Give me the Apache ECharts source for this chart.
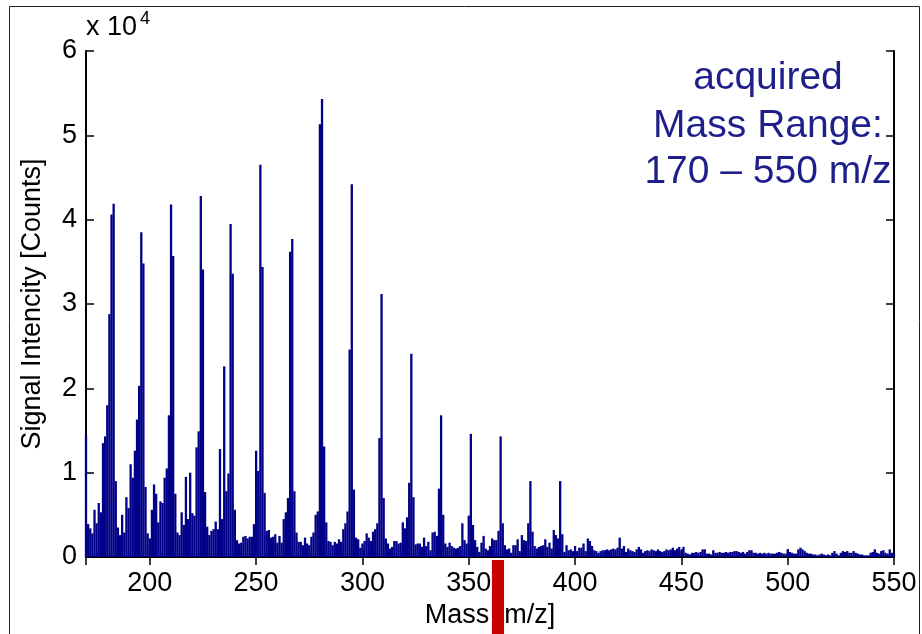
<!DOCTYPE html>
<html>
<head>
<meta charset="utf-8">
<script src="https://cdn.jsdelivr.net/npm/echarts@6/dist/echarts.min.js"></script>
<style>html,body{margin:0;padding:0;background:#fff}#c{width:922px;height:634px}</style>
</head>
<body>
<div id="c"></div>
<script>
// Signal intensity in units of 1e4 counts, one value per unit mass
const intensity170to209 = [1.45,0.39,0.34,0.28,0.56,0.40,0.64,0.53,1.35,1.43, 1.80,2.88,4.06,4.19,0.90,0.35,0.26,0.50,0.29,0.71, 0.58,1.10,0.94,1.26,1.63,2.03,3.85,3.48,0.83,0.28, 0.22,0.56,0.86,0.75,0.41,0.66,0.64,0.94,1.05,1.68];
const intensity210to249 = [4.18,3.57,0.75,0.29,0.26,0.53,0.38,0.95,0.45,1.00, 0.52,0.49,1.30,1.49,4.28,3.41,0.77,0.36,0.26,0.31, 0.33,0.42,0.33,1.28,0.45,2.26,0.78,0.99,3.95,3.36, 0.56,0.20,0.16,0.17,0.24,0.25,0.22,0.24,0.24,0.39];
const intensity250to289 = [1.26,1.02,4.65,3.44,0.76,0.31,0.32,0.23,0.24,0.27, 0.17,0.25,0.17,0.45,0.53,0.70,3.62,3.77,0.78,0.29, 0.18,0.18,0.14,0.23,0.16,0.14,0.24,0.29,0.50,0.54, 5.13,5.43,1.31,0.41,0.19,0.18,0.14,0.18,0.16,0.21];
const intensity290to329 = [0.18,0.33,0.40,0.54,2.46,4.42,0.80,0.23,0.21,0.11, 0.16,0.19,0.28,0.23,0.19,0.30,0.33,0.40,1.41,3.12, 0.70,0.22,0.16,0.10,0.12,0.19,0.19,0.16,0.17,0.41, 0.34,0.47,0.88,2.41,0.71,0.15,0.16,0.16,0.12,0.23];
const intensity330to369 = [0.13,0.18,0.08,0.29,0.30,0.25,0.81,1.68,0.50,0.16, 0.12,0.17,0.13,0.11,0.10,0.11,0.13,0.40,0.20,0.16, 0.49,1.46,0.38,0.20,0.12,0.06,0.17,0.25,0.10,0.08, 0.13,0.22,0.20,0.20,0.31,1.43,0.40,0.14,0.09,0.10];
const intensity370to409 = [0.05,0.14,0.14,0.21,0.07,0.26,0.20,0.19,0.40,0.90, 0.30,0.13,0.10,0.12,0.13,0.14,0.21,0.12,0.17,0.10, 0.32,0.26,0.22,0.90,0.27,0.06,0.14,0.08,0.09,0.07, 0.13,0.07,0.11,0.11,0.16,0.07,0.22,0.19,0.13,0.08];
const intensity410to449 = [0.07,0.05,0.07,0.08,0.08,0.09,0.08,0.09,0.10,0.09, 0.11,0.23,0.10,0.13,0.06,0.10,0.08,0.07,0.06,0.09, 0.12,0.09,0.05,0.07,0.08,0.07,0.09,0.08,0.07,0.09, 0.07,0.06,0.07,0.09,0.08,0.09,0.11,0.08,0.10,0.12];
const intensity450to489 = [0.08,0.12,0.05,0.04,0.03,0.05,0.05,0.06,0.05,0.06, 0.09,0.09,0.04,0.04,0.03,0.08,0.05,0.05,0.06,0.05, 0.05,0.06,0.05,0.06,0.06,0.07,0.07,0.06,0.05,0.06, 0.04,0.06,0.08,0.08,0.05,0.05,0.04,0.05,0.04,0.05];
const intensity490to550 = [0.04,0.05,0.04,0.04,0.04,0.05,0.06,0.05,0.04,0.04, 0.09,0.06,0.05,0.04,0.04,0.09,0.11,0.09,0.07,0.05, 0.04,0.04,0.03,0.03,0.02,0.03,0.04,0.03,0.02,0.03, 0.02,0.05,0.07,0.04,0.02,0.05,0.07,0.06,0.07,0.05, 0.05,0.07,0.05,0.04,0.03,0.03,0.02,0.02,0.02,0.05, 0.06,0.09,0.05,0.04,0.07,0.08,0.05,0.04,0.09,0.05, 0.03];
const segmentStarts = [170, 210, 250, 290, 330, 370, 410, 450, 490];
const segments = [intensity170to209, intensity210to249, intensity250to289, intensity290to329, intensity330to369, intensity370to409, intensity410to449, intensity450to489, intensity490to550];
const xRange = [170, 550];
const yRange = [0, 6];
const markerRange = [360.9, 366.6]; // red marker below the mass axis
const annotationLines = ['acquired', 'Mass Range:', '170 \u2013 550 m/z'];

const spectrum = [];
segments.forEach((seg, s) => seg.forEach((v, i) => spectrum.push([segmentStarts[s] + i, v])));

const FONT = "'Liberation Sans', Arial, Helvetica, sans-serif";
const chart = echarts.init(document.getElementById('c'), null, {renderer: 'canvas'});
const axisLine = {show: true, lineStyle: {color: '#000', width: 2}};
const tick = {show: true, inside: true, length: 8, lineStyle: {color: '#000', width: 1.5}};

chart.setOption({
  animation: false,
  backgroundColor: '#fff',
  grid: {left: 86, right: 28, top: 51, bottom: 77, containLabel: false, outerBoundsMode: 'none'},
  xAxis: [
    {type: 'value', min: xRange[0], max: xRange[1], minInterval: 50, maxInterval: 50, splitNumber: 8,
     axisLine, axisTick: tick, splitLine: {show: false},
     axisLabel: {color: '#000', fontSize: 27, fontFamily: FONT, margin: 13, showMinLabel: false},
     name: 'Mass [m/z]', nameLocation: 'middle', nameGap: 43,
     nameTextStyle: {color: '#000', fontSize: 27, fontFamily: FONT}},
    {type: 'value', position: 'top', min: xRange[0], max: xRange[1], minInterval: 50, maxInterval: 50, splitNumber: 8,
     axisLine, axisTick: tick, splitLine: {show: false}, axisLabel: {show: false}}
  ],
  yAxis: [
    {type: 'value', min: yRange[0], max: yRange[1], interval: 1,
     axisLine, axisTick: tick, splitLine: {show: false},
     axisLabel: {color: '#000', fontSize: 27, fontFamily: FONT, margin: 9},
     name: 'Signal Intencity [Counts]', nameLocation: 'middle', nameGap: 40,
     nameTextStyle: {color: '#000', fontSize: 27, fontFamily: FONT}},
    {type: 'value', position: 'right', min: yRange[0], max: yRange[1], interval: 1,
     axisLine, axisTick: tick, splitLine: {show: false}, axisLabel: {show: false}}
  ],
  series: [
    {type: 'bar', xAxisIndex: 0, yAxisIndex: 0, data: spectrum, barWidth: 2.3,
     itemStyle: {color: '#000088'}, large: false, silent: true},
    {type: 'custom', xAxisIndex: 0, yAxisIndex: 0, clip: false, z: 10, silent: true,
     data: [[markerRange[0], markerRange[1], 0]],
     encode: {x: [0, 1], y: 2},
     renderItem: function (params, api) {
       const a = api.coord([api.value(0), 0]);
       const b = api.coord([api.value(1), 0]);
       return {type: 'rect', shape: {x: a[0], y: a[1] + 3, width: b[0] - a[0], height: 120},
               style: {fill: '#c80000'}};
     }}
  ],
  graphic: [
    {type: 'rect', silent: true, shape: {x: 9.5, y: 6.5, width: 910, height: 700},
     style: {fill: null, stroke: '#222', lineWidth: 1}},
    {type: 'text', x: 86, y: 28, style: {text: 'x 10', font: '27px ' + FONT, fill: '#000', textVerticalAlign: 'middle'}},
    {type: 'text', x: 140, y: 19, style: {text: '4', font: '18px ' + FONT, fill: '#000', textVerticalAlign: 'middle'}},
    {type: 'text', x: 768, y: 78, style: {text: annotationLines[0], font: '39px ' + FONT, fill: '#1f1f8c', textAlign: 'center', textVerticalAlign: 'middle'}},
    {type: 'text', x: 768, y: 126, style: {text: annotationLines[1], font: '39px ' + FONT, fill: '#1f1f8c', textAlign: 'center', textVerticalAlign: 'middle'}},
    {type: 'text', x: 768, y: 172, style: {text: annotationLines[2], font: '39px ' + FONT, fill: '#1f1f8c', textAlign: 'center', textVerticalAlign: 'middle'}}
  ]
});
</script>
</body>
</html>
